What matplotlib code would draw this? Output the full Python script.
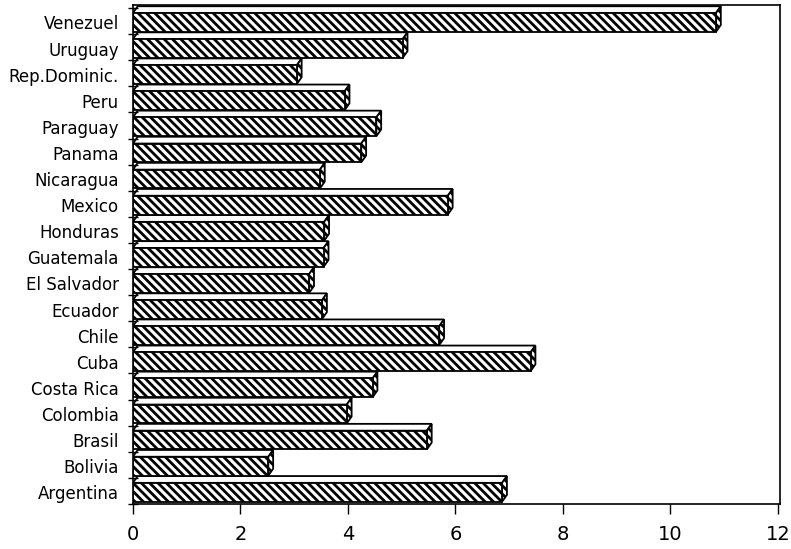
import matplotlib
matplotlib.use("Agg")
import matplotlib.pyplot as plt
from matplotlib.patches import Rectangle, Polygon

# countries listed bottom to top, as in the picture
countries = [
    "Argentina", "Bolivia", "Brasil", "Colombia", "Costa Rica", "Cuba",
    "Chile", "Ecuador", "El Salvador", "Guatemala", "Honduras", "Mexico",
    "Nicaragua", "Panama", "Paraguay", "Peru", "Rep.Dominic.", "Uruguay",
    "Venezuel",
]
values = [
    6.87, 2.52, 5.47, 3.98, 4.46, 7.40,
    5.70, 3.52, 3.28, 3.55, 3.56, 5.86,
    3.48, 4.25, 4.53, 3.94, 3.05, 5.02,
    10.85,
]
x_ticks = [0, 2, 4, 6, 8, 10, 12]

plt.rcParams["hatch.linewidth"] = 2.0

fig = plt.figure(figsize=(7.91, 5.49), dpi=100)
ax = fig.add_axes([0.168, 0.082, 0.818, 0.909])

h = 0.36     # half height of the front face
dx = 0.09    # depth offset, x units
dy = 0.26    # depth offset, y units

for i, v in enumerate(values):
    y0 = i - h
    y1 = i + h
    # top face
    ax.add_patch(Polygon([(0, y1), (dx, y1 + dy), (v + dx, y1 + dy), (v, y1)],
                         closed=True, facecolor="white", edgecolor="black", lw=1.3))
    # side face
    ax.add_patch(Polygon([(v, y0), (v + dx, y0 + dy), (v + dx, y1 + dy), (v, y1)],
                         closed=True, facecolor="white", edgecolor="black", lw=1.3,
                         hatch="\\" * 4))
    # front face
    ax.add_patch(Rectangle((0, y0), v, 2 * h, facecolor="white",
                           edgecolor="black", lw=1.3, hatch="\\" * 4))

ax.set_xlim(0, 12.04)
ax.set_ylim(-0.37, 18.67)

ax.set_xticks(x_ticks)
ax.set_xticklabels([str(t) for t in x_ticks], fontsize=14)
ax.set_yticks(range(len(countries)))
ax.set_yticklabels(countries, fontsize=12)
ax.set_yticks([i + 0.55 for i in range(-1, len(countries))], minor=True)

ax.tick_params(axis="y", which="major", length=0, pad=10)
ax.tick_params(axis="y", which="minor", direction="inout", length=7, width=1)
ax.tick_params(axis="x", which="major", direction="out", length=7, width=1, pad=8)

for s in ax.spines.values():
    s.set_linewidth(1.2)

fig.savefig("out.png", dpi=100)
